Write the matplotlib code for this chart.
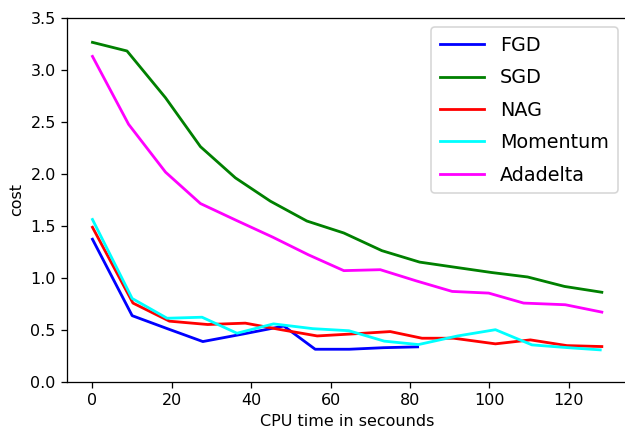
import matplotlib
matplotlib.use("Agg")
import matplotlib.pyplot as plt

fgd_x = [0, 10.0, 19.0, 27.8, 38.0, 48.2, 56.1, 64.7, 73.3, 81.9]
fgd_y = [1.37, 0.635, 0.508, 0.386, 0.459, 0.535, 0.312, 0.312, 0.327, 0.335]

sgd_x = [0, 8.7, 18.4, 27.2, 36.0, 44.8, 54.0, 63.3, 72.9, 82.4, 91.4, 100.5, 109.6, 118.9, 128.3]
sgd_y = [3.263, 3.18, 2.73, 2.26, 1.96, 1.736, 1.545, 1.43, 1.26, 1.15, 1.10, 1.05, 1.007, 0.916, 0.86]

nag_x = [0, 10.2, 19.4, 29.0, 38.5, 47.5, 56.6, 65.8, 75.0, 83.0, 91.0, 101.5, 110.3, 119.5, 128.3]
nag_y = [1.485, 0.756, 0.582, 0.55, 0.563, 0.50, 0.44, 0.46, 0.482, 0.418, 0.418, 0.364, 0.402, 0.347, 0.338]

mom_x = [0, 10.0, 18.8, 27.6, 36.4, 45.6, 55.5, 64.6, 73.5, 82.1, 92.0, 101.5, 110.7, 119.5, 127.9]
mom_y = [1.56, 0.80, 0.61, 0.62, 0.466, 0.556, 0.51, 0.49, 0.39, 0.357, 0.44, 0.50, 0.354, 0.328, 0.306]

ada_x = [0, 9.1, 18.4, 27.2, 36.3, 45.4, 54.4, 63.3, 72.5, 81.5, 90.6, 99.8, 108.6, 119.1, 128.3]
ada_y = [3.128, 2.475, 2.015, 1.713, 1.55, 1.39, 1.22, 1.068, 1.077, 0.97, 0.868, 0.852, 0.756, 0.74, 0.669]

dpi = 115
fig = plt.figure(figsize=(625 / dpi, 432 / dpi), dpi=dpi)
ax = fig.add_axes([67 / 625, (432 - 381.7) / 432, 560.3 / 625, 364 / 432])

lw = 1.75
ax.plot(fgd_x, fgd_y, color="blue", lw=lw, label="FGD")
ax.plot(sgd_x, sgd_y, color="green", lw=lw, label="SGD")
ax.plot(nag_x, nag_y, color="red", lw=lw, label="NAG")
ax.plot(mom_x, mom_y, color="cyan", lw=lw, label="Momentum")
ax.plot(ada_x, ada_y, color="magenta", lw=lw, label="Adadelta")

ax.set_ylim(0, 3.5)
ax.set_xticks([0, 20, 40, 60, 80, 100, 120])
ax.set_xlabel("CPU time in secounds")
ax.set_ylabel("cost")
ax.legend(loc="upper right", fontsize="large", labelspacing=0.7,
          handlelength=2.3, handletextpad=0.85, borderpad=0.45)

fig.savefig("out.png", dpi=dpi)
